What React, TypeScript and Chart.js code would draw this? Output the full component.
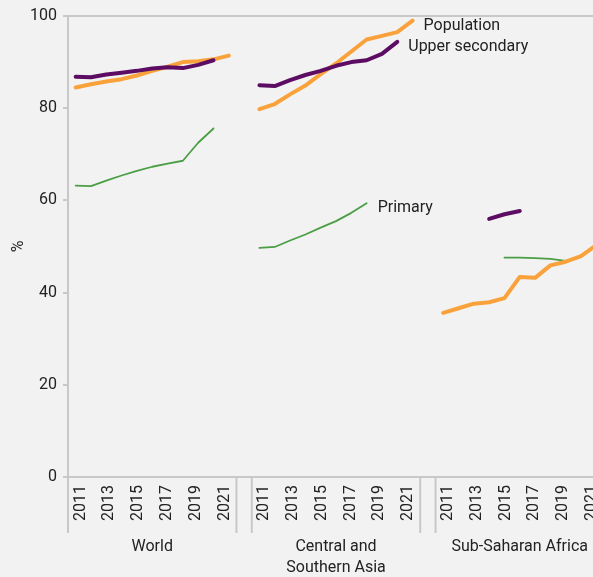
import React, { useEffect, useRef } from 'react';
import { Chart, registerables } from 'chart.js';

Chart.register(...registerables);

// ---------- data ----------
const YEARS = ['2011', '2012', '2013', '2014', '2015', '2016', '2017', '2018', '2019', '2020', '2021'];
const REGIONS = [['World'], ['Central and', 'Southern Asia'], ['Sub-Saharan Africa']];
const SERIES_NAMES = ['Population', 'Upper secondary', 'Primary'];

const populationWorld = [84.5, 85.2, 85.8, 86.3, 87.1, 88.1, 89.0, 90.0, 90.2, 90.6, 91.4];
const upperSecondaryWorld = [86.8, 86.7, 87.3, 87.7, 88.1, 88.6, 88.9, 88.7, 89.4, 90.4, null];
const primaryWorld = [63.2, 63.1, 64.3, 65.4, 66.4, 67.3, 68.0, 68.6, 72.5, 75.6, null];

const populationCSA = [79.8, 80.9, 83.0, 84.9, 87.4, 89.7, 92.3, 94.9, 95.7, 96.5, 99.0];
const upperSecondaryCSA = [85.0, 84.8, 86.1, 87.2, 88.1, 89.2, 90.0, 90.4, 91.8, 94.4, null];
const primaryCSA = [49.7, 49.9, 51.3, 52.6, 54.1, 55.5, 57.3, 59.4, null, null, null];

const populationSSA = [35.6, 36.6, 37.6, 37.9, 38.8, 43.4, 43.2, 45.9, 46.7, 47.9, 50.3];
const upperSecondarySSA = [null, null, null, 56.0, 57.0, 57.7, null, null, null, null, null];
const primarySSA = [null, null, null, null, 47.6, 47.6, 47.5, 47.3, 46.9, null, null];

const SERIES_VALUES: (number | null)[][][] = [
  [populationWorld, populationCSA, populationSSA],
  [upperSecondaryWorld, upperSecondaryCSA, upperSecondarySSA],
  [primaryWorld, primaryCSA, primarySSA],
];

const Y_TICKS = [0, 20, 40, 60, 80, 100];

// ---------- styles ----------
const FONT = 'Roboto, "Noto Sans", sans-serif';
const TEXT_COLOR = '#222222';
const AXIS_COLOR = '#c8c8c8';
const BG = '#f2f2f2';
const COLORS = ['#f9a23c', '#5c0c62', '#4a9e44'];
const WIDTHS = [4, 4, 1.8];
const ORDERS = [1, 0, 2];
const PANEL_STEP = 12; // 11 years + 1 gap slot
const LABEL_START = 0.32;
const LABEL_STEP = 0.94;
const ANNOTATED_PANEL = 1;

const panelPlugin = {
  id: 'panelDecor',
  afterDraw(chart: any) {
    const { ctx } = chart;
    const x = chart.scales.x;
    const y = chart.scales.y;
    const top = y.bottom;
    ctx.save();
    // separators under the axis
    ctx.strokeStyle = AXIS_COLOR;
    ctx.lineWidth = 2;
    REGIONS.forEach((_, p) => {
      [p * PANEL_STEP - 0.5, p * PANEL_STEP + YEARS.length - 0.5].forEach((v) => {
        const px = x.getPixelForValue(v);
        ctx.beginPath();
        ctx.moveTo(px, top);
        ctx.lineTo(px, top + 56);
        ctx.stroke();
      });
    });
    // region names
    ctx.fillStyle = TEXT_COLOR;
    ctx.font = `16px ${FONT}`;
    ctx.textAlign = 'center';
    ctx.textBaseline = 'middle';
    REGIONS.forEach((lines, p) => {
      const cx = x.getPixelForValue(p * PANEL_STEP + (YEARS.length - 1) / 2);
      lines.forEach((t, j) => ctx.fillText(t, cx, top + 70 + j * 21));
    });
    // series annotations at the end of the central panel lines
    ctx.textAlign = 'left';
    chart.data.datasets.forEach((ds: any, i: number) => {
      if (ds.panel !== ANNOTATED_PANEL) return;
      const meta = chart.getDatasetMeta(i);
      let last = -1;
      ds.data.forEach((d: any, k: number) => {
        if (d.y !== null) last = k;
      });
      if (last < 0) return;
      const el = meta.data[last];
      ctx.fillText(ds.label, el.x + 11, el.y + 5);
    });
    ctx.restore();
  },
};

export default function App() {
  const ref = useRef<HTMLCanvasElement | null>(null);

  useEffect(() => {
    if (!ref.current) return;
    const datasets: any[] = [];
    SERIES_NAMES.forEach((name, s) => {
      SERIES_VALUES[s].forEach((vals, p) => {
        datasets.push({
          label: name,
          panel: p,
          data: vals.map((v, i) => ({ x: p * PANEL_STEP + i, y: v })),
          borderColor: COLORS[s],
          backgroundColor: COLORS[s],
          borderWidth: WIDTHS[s],
          borderCapStyle: 'round',
          borderJoinStyle: 'round',
          pointRadius: 0,
          tension: 0,
          spanGaps: false,
          order: ORDERS[s],
        });
      });
    });

    const chart = new Chart(ref.current, {
      type: 'line',
      data: { datasets },
      plugins: [panelPlugin],
      options: {
        responsive: false,
        animation: false,
        layout: { padding: { top: 16, right: 26, left: 0, bottom: 0 } },
        plugins: { legend: { display: false }, tooltip: { enabled: false } },
        scales: {
          x: {
            type: 'linear',
            min: -0.5,
            max: REGIONS.length * PANEL_STEP - 1.5,
            grid: { display: false, drawTicks: false },
            border: { display: true, color: AXIS_COLOR, width: 2 },
            afterFit: (scale: any) => {
              scale.height = 100;
            },
            afterBuildTicks: (scale: any) => {
              const ticks: any[] = [];
              REGIONS.forEach((_, p) => {
                YEARS.forEach((yr, i) => {
                  if (i % 2 === 0) ticks.push({ value: p * PANEL_STEP + LABEL_START + i * LABEL_STEP, label: yr });
                });
              });
              scale.ticks = ticks;
            },
            ticks: {
              autoSkip: false,
              minRotation: 90,
              maxRotation: 90,
              padding: 8,
              color: TEXT_COLOR,
              font: { family: FONT, size: 16, lineHeight: 1 },
              callback: function (this: any, _v: any, index: number) {
                return YEARS[(index % 6) * 2];
              },
            },
          },
          y: {
            min: 0,
            max: 100,
            afterFit: (scale: any) => {
              scale.width = 68;
            },
            afterBuildTicks: (scale: any) => {
              scale.ticks = Y_TICKS.map((v) => ({ value: v }));
            },
            grid: {
              drawOnChartArea: true,
              color: (c: any) => (c.tick && c.tick.value === 100 ? AXIS_COLOR : 'rgba(0,0,0,0)'),
              tickColor: AXIS_COLOR,
              tickLength: 5,
              lineWidth: 2,
            },
            border: { display: true, color: AXIS_COLOR, width: 2 },
            ticks: {
              padding: 6,
              color: TEXT_COLOR,
              font: { family: FONT, size: 16, lineHeight: 1 },
            },
            title: {
              display: true,
              text: '%',
              color: TEXT_COLOR,
              padding: { top: 9, bottom: 0 },
              font: { family: FONT, size: 16 },
            },
          },
        },
      },
    } as any);
    return () => chart.destroy();
  }, []);

  return (
    <div
      style={{
        position: 'fixed',
        left: 0,
        top: 0,
        width: 593,
        height: 577,
        overflow: 'hidden',
        background: BG,
      }}
    >
      <canvas ref={ref} width={630} height={577} style={{ display: 'block' }} />
    </div>
  );
}
